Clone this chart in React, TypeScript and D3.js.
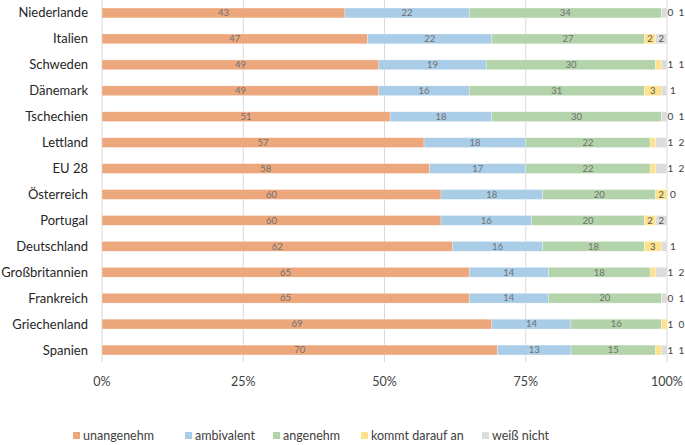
import React from "react";
import * as d3 from "d3";

const countries = ["Niederlande","Italien","Schweden","Dänemark","Tschechien","Lettland","EU 28","Österreich","Portugal","Deutschland","Großbritannien","Frankreich","Griechenland","Spanien"];
const unangenehm = [43,47,49,49,51,57,58,60,60,62,65,65,69,70];
const ambivalent = [22,22,19,16,18,18,17,18,16,16,14,14,14,13];
const angenehm = [34,27,30,31,30,22,22,20,20,18,18,20,16,15];
const kommt = [0,2,1,3,0,1,1,2,2,3,1,0,1,1];
const weiss = [1,2,1,1,1,2,2,0,2,1,2,1,0,1];
const seriesNames = ["unangenehm","ambivalent","angenehm","kommt darauf an","weiß nicht"];
const colors = ["#ECA77D","#A9CCE7","#B3D3AA","#FEE18C","#DCDCDC"];
const ticks = [0,25,50,75,100];

const W = 685, H = 445;
const FONT = "Lato, 'Open Sans', sans-serif";

export default function App() {
  const series = [unangenehm, ambivalent, angenehm, kommt, weiss];
  const x = d3.scaleLinear().domain([0,100]).range([102,667]);
  const y = d3.scaleBand<string>().domain(countries).range([0,363]).paddingInner(0.62).paddingOuter(0.31);
  const bh = y.bandwidth();
  const legendX = [73,185,273,361,482];

  return (
    <svg width={W} height={H} style={{position:"absolute",left:0,top:0,background:"#fff"}} fontFamily={FONT}>
      {ticks.map(t => (
        <g key={t}>
          <line x1={x(t)} x2={x(t)} y1={0} y2={362} stroke="#D9D9D9" strokeWidth={1}/>
          <text x={x(t)} y={386} textAnchor="middle" fontSize={12.5} fill="#404040">{t}%</text>
        </g>
      ))}
      {countries.map((c,i) => {
        const yc = (y(c) as number) + bh/2;
        let cum = 0;
        const segs: any[] = [];
        const outside: number[] = [];
        const yellowInside = kommt[i] >= 2;
        series.forEach((s,k) => {
          const v = s[i];
          const x0 = x(cum), x1 = x(cum+v);
          cum += v;
          if (v > 0) segs.push(<rect key={"r"+k} x={x0} y={y(c)} width={x1-x0} height={bh} fill={colors[k]} stroke="#fff" strokeOpacity={0.5} strokeWidth={0.6}/>);
          const inside = k < 3 || (k === 3 && yellowInside) || (k === 4 && yellowInside && v >= 2);
          if (inside) {
            segs.push(<text key={"t"+k} x={(x0+x1)/2} y={yc+3.3} textAnchor="middle" fontSize={9.5} fill={k>=3?"#555":"#707070"}>{v}</text>);
          } else {
            outside.push(v);
          }
        });
        return (
          <g key={c}>
            <text x={88} y={yc+4.5} textAnchor="end" fontSize={13} fill="#262626">{c}</text>
            {segs}
            {outside.map((v,j) => (
              <text key={"o"+j} x={outside.length===1 ? 670 : 667.5 + j*11} y={yc+3.5} fontSize={10} fill="#404040">{v}</text>
            ))}
          </g>
        );
      })}
      {seriesNames.map((n,k) => (
        <g key={n}>
          <rect x={legendX[k]} y={432} width={7} height={7} fill={colors[k]}/>
          <text x={legendX[k]+10} y={440} fontSize={12.5} fill="#404040">{n}</text>
        </g>
      ))}
    </svg>
  );
}
